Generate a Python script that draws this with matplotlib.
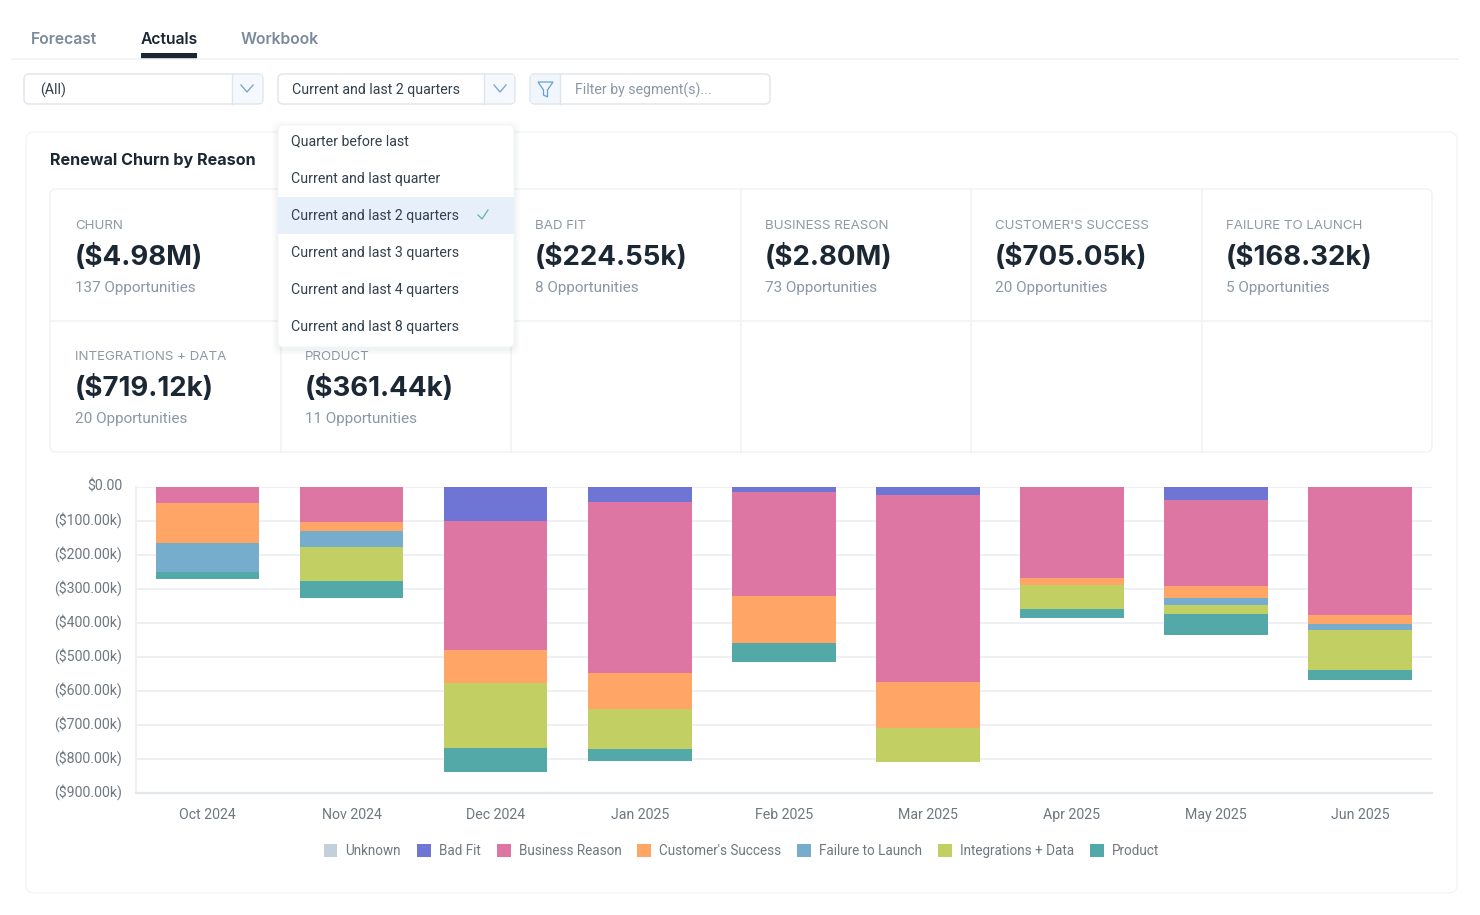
import matplotlib
matplotlib.use('Agg')
import matplotlib.pyplot as plt
import numpy as np
from matplotlib.patches import FancyBboxPatch, Rectangle, Polygon
from matplotlib.transforms import ScaledTranslation

plt.rcParams['font.family'] = ['Inter', 'DejaVu Sans']

# chart values, in thousands of dollars of churn per month
months = ['Oct 2024', 'Nov 2024', 'Dec 2024', 'Jan 2025', 'Feb 2025', 'Mar 2025', 'Apr 2025', 'May 2025', 'Jun 2025']
reasons = ['Unknown', 'Bad Fit', 'Business Reason', "Customer's Success", 'Failure to Launch', 'Integrations + Data', 'Product']
unknown = [0, 0, 0, 0, 0, 0, 0, 0, 0]
bad_fit = [0, 0, 101, 43, 14, 24.5, 0, 38, 0]
business_reason = [46, 104, 379, 505, 308, 550, 267, 255, 378]
customer_success = [119, 25, 96, 106, 138, 136, 23, 35, 27]
failure_to_launch = [84, 49, 0, 0, 0, 0, 0, 20, 15]
integrations_data = [0, 98, 192, 118, 0, 101, 68, 25, 120]
product = [22, 52, 73, 35, 57, 0, 27, 62, 29]
series = [unknown, bad_fit, business_reason, customer_success, failure_to_launch, integrations_data, product]
colors = ['#C3CFDB', '#6F75D4', '#DD76A3', '#FFA566', '#76ADCD', '#C2D063', '#53A9A7']

y_ticks = [0, 100, 200, 300, 400, 500, 600, 700, 800, 900]
y_labels = ['$0.00', '($100.00k)', '($200.00k)', '($300.00k)', '($400.00k)', '($500.00k)', '($600.00k)', '($700.00k)', '($800.00k)', '($900.00k)']

tabs = ['Forecast', 'Actuals', 'Workbook']
range_options = ['Quarter before last', 'Current and last quarter', 'Current and last 2 quarters',
                 'Current and last 3 quarters', 'Current and last 4 quarters', 'Current and last 8 quarters']
kpi_names = ['CHURN', 'BAD FIT', 'BUSINESS REASON', "CUSTOMER'S SUCCESS", 'FAILURE TO LAUNCH', 'INTEGRATIONS + DATA', 'PRODUCT']
kpi_values = ['($4.98M)', '($224.55k)', '($2.80M)', '($705.05k)', '($168.32k)', '($719.12k)', '($361.44k)']
kpi_counts = ['137 Opportunities', '8 Opportunities', '73 Opportunities', '20 Opportunities', '5 Opportunities', '20 Opportunities', '11 Opportunities']

W, H = 1480, 915
DARK = '#1B2733'
GREY = '#8A97A6'
LINE = '#F0F2F4'
BORDER = '#DFE5EC'
CHART_TEXT = '#6F7780'
SMALL_FONT = 'Roboto'  # the original text is narrow, Inter only fits at a much smaller size
UI_SIZE = 10.15

fig = plt.figure(figsize=(W / 100, H / 100), dpi=100)

# page furniture is laid out in pixels on a full figure axes
ui = fig.add_axes([0, 0, 1, 1], zorder=0)
ui.set_xlim(0, W)
ui.set_ylim(H, 0)
ui.axis('off')


def box(x0, y0, x1, y1, fc='white', ec=BORDER, lw=1.0, r=5, z=1):
    ui.add_patch(FancyBboxPatch((x0, y0), x1 - x0, y1 - y0, boxstyle=f'round,pad=0,rounding_size={r}',
                                fc=fc, ec=ec, lw=lw, zorder=z))


def chevron(cx, cy):
    ui.plot([cx - 6, cx, cx + 6], [cy - 3, cy + 4, cy - 3], color='#7FA8D0', lw=1.0, zorder=3)


# tabs
ui.plot([12, 1458], [59, 59], color=LINE, lw=1.2)
for label, x, active in zip(tabs, [64, 169, 280], [False, True, False]):
    ui.text(x, 39.5, label, ha='center', va='center', fontsize=11.3, fontweight='semibold',
            color=DARK if active else '#7B8A9A')
ui.add_patch(Rectangle((141, 53), 56, 5.5, fc=DARK, ec='none'))

# filter row
box(24, 74, 263, 104)
ui.add_patch(Rectangle((232, 75), 30, 28, fc='#F5F8FC', ec='none', zorder=1.5))
ui.plot([232, 232], [74, 104], color=BORDER, lw=1, zorder=2)
chevron(247, 88)
ui.text(40, 90, '(All)', va='center', family=SMALL_FONT, fontsize=UI_SIZE, color='#33404D', zorder=3)

box(278, 74, 515, 104)
ui.add_patch(Rectangle((484, 75), 30, 28, fc='#F5F8FC', ec='none', zorder=1.5))
ui.plot([484, 484], [74, 104], color=BORDER, lw=1, zorder=2)
chevron(500, 88)
ui.text(292, 90, range_options[2], va='center', family=SMALL_FONT, fontsize=UI_SIZE, color='#33404D', zorder=3)

box(530, 74, 770, 104)
ui.add_patch(Rectangle((531, 75), 29, 28, fc='#F1F6FC', ec='none', zorder=1.5))
ui.plot([560, 560], [74, 104], color=BORDER, lw=1, zorder=2)
ui.add_patch(Polygon([(538, 82), (553, 82), (547.5, 90), (547.5, 97), (543.5, 95), (543.5, 90)],
                     fc='none', ec='#6A9DD0', lw=0.9, zorder=3))
ui.text(575, 90, 'Filter by segment(s)...', va='center', family=SMALL_FONT, fontsize=UI_SIZE, color=GREY, zorder=3)

# main card and kpi grid
box(26, 132, 1457, 893, ec='#F2F4F6', r=8)
ui.text(50, 161, 'Renewal Churn by Reason', va='center', fontsize=11.6, fontweight='bold', color=DARK, zorder=2)
box(50, 189, 1432, 452, ec=LINE, r=6, z=1.2)
ui.plot([50, 1432], [321, 321], color=LINE, lw=1.2, zorder=1.3)
for x in [281, 511, 741, 971, 1202]:
    ui.plot([x, x], [189, 452], color=LINE, lw=1.2, zorder=1.3)

kpi_x = [75, 535, 765, 995, 1226, 75, 305]
kpi_y = [226, 226, 226, 226, 226, 357, 357]
for name, value, count, x, y in zip(kpi_names, kpi_values, kpi_counts, kpi_x, kpi_y):
    ui.text(x, y, name, va='center', fontsize=9.6, color='#8E99A5', zorder=2)
    ui.text(x, y + 31.5, value, va='center', fontsize=19.9, fontweight='bold', color=DARK, zorder=2)
    ui.text(x, y + 62, count, va='center', family=SMALL_FONT, fontsize=10.95, color=GREY, zorder=2)

# dropdown, with a soft shadow under it
for grow, alpha in zip([6, 4, 2], [0.012, 0.018, 0.025]):
    ui.add_patch(FancyBboxPatch((278 - grow, 125 - grow + 2), 236 + 2 * grow, 222 + 2 * grow,
                                boxstyle='round,pad=0,rounding_size=8', fc='#2A3A4A', ec='none',
                                alpha=alpha, zorder=4))
box(278, 125, 514, 347, ec='#F3F5F7', lw=0.6, r=6, z=4.1)
ui.add_patch(Rectangle((278, 197), 236, 37, fc='#E7F0FA', ec='none', zorder=4.2))
for i, label in enumerate(range_options):
    ui.text(291, 141.7 + i * 37, label, va='center', family=SMALL_FONT, fontsize=UI_SIZE, color='#33404D', zorder=5)
ui.plot([478, 482, 488], [215, 219, 210], color='#5FB5A8', lw=0.9, zorder=5)

# the chart itself
ax = fig.add_axes([135.5 / W, 1 - 792.5 / H, (1432 - 135.5) / W, (792.5 - 487) / H], zorder=2)
ax.patch.set_alpha(0)
x = np.arange(len(months))
top = np.zeros(len(months))
for name, values, color in zip(reasons, series, colors):
    values = np.array(values, dtype=float)
    ax.bar(x, -values, 0.72, bottom=top, color=color, label=name, linewidth=0, zorder=3)
    top = top - values

ax.set_xlim(-0.5, len(months) - 0.5)
ax.set_ylim(-900, 0)
ax.set_xticks(x, months)
ax.set_yticks([-v for v in y_ticks], y_labels)
ax.tick_params(axis='x', length=0, pad=11, labelsize=10.2, labelcolor=CHART_TEXT, labelfontfamily=SMALL_FONT)
ax.tick_params(axis='y', length=0, pad=9.5, labelsize=10.2, labelcolor=CHART_TEXT, labelfontfamily=SMALL_FONT)
ax.grid(axis='y', color='#EDEFF2', lw=1.3, zorder=0)
ax.set_axisbelow(True)
for side in ['top', 'right']:
    ax.spines[side].set_visible(False)
ax.spines['left'].set_color('#EDEFF2')
ax.spines['left'].set_linewidth(1.3)
ax.spines['bottom'].set_color('#E2E5E9')
ax.spines['bottom'].set_linewidth(1.6)

# put all y labels on one baseline, $0.00 has no parens and otherwise rides high
nudge = ScaledTranslation(0, -4 / 100, fig.dpi_scale_trans)
for tick_label in ax.get_yticklabels():
    tick_label.set_verticalalignment('baseline')
    tick_label.set_transform(tick_label.get_transform() + nudge)

ax.legend(loc='center', bbox_to_anchor=(741.5 / W, 1 - 851 / H), bbox_transform=fig.transFigure,
          ncol=7, frameon=False, prop={'family': SMALL_FONT, 'size': 9.75}, handlelength=1.03, handleheight=1.03,
          handletextpad=0.59, columnspacing=1.18, labelcolor=CHART_TEXT)

fig.savefig('out.png', dpi=100, facecolor='white')
